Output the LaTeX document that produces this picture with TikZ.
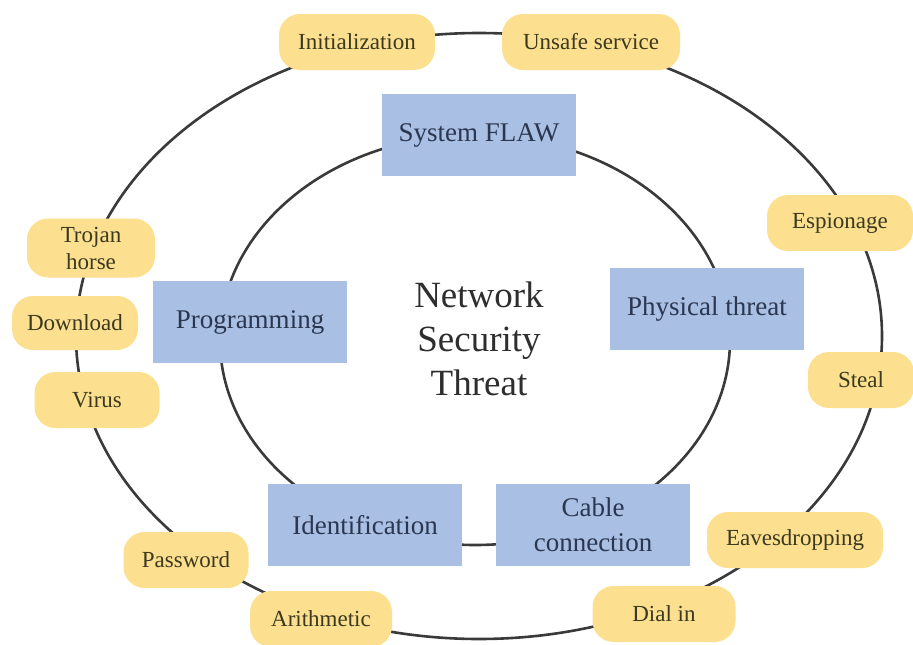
\documentclass[tikz,border=0pt]{standalone}
\usepackage{fontspec}
\setmainfont{Liberation Serif}
\definecolor{threatblue}{HTML}{A9BFE3}
\definecolor{attackgold}{HTML}{FCE08F}
\definecolor{navytext}{HTML}{2B3650}
\definecolor{olivetext}{HTML}{3B3920}
\definecolor{ringgray}{HTML}{3A3A3C}
\definecolor{titletext}{HTML}{2E2E2E}
\tikzset{
  ring/.style={draw=ringgray, line width=2.6pt},
  threat/.style={fill=threatblue, minimum width=194pt, minimum height=82pt,
    inner sep=0pt, align=center, text=navytext,
    font=\fontsize{27}{35}\selectfont},
  attack/.style={fill=attackgold, rounded corners=21pt, minimum height=56pt,
    inner sep=0pt, align=center, text=olivetext,
    font=\fontsize{23}{27}\selectfont}
}
\begin{document}
\begin{tikzpicture}[x=1pt,y=-1pt]
  \useasboundingbox[fill=white] (0,0) rectangle (913,645);
  % the two rings
  \coordinate (outerc) at (479,336);
  \coordinate (innerc) at (475,340);
  \draw[ring] (outerc) ellipse [x radius=403pt, y radius=303pt];
  \draw[ring] (innerc) ellipse [x radius=255pt, y radius=205pt];

  % centre title
  \node[align=center, text=titletext, font=\fontsize{37}{44}\selectfont]
    (title) at (479,339) {Network\\Security\\Threat};

  % inner ring: threat categories
  \node[threat] (flaw)  at (479,135) {System FLAW};
  \node[threat] (prog)  at (250,322) {Programming};
  \node[threat] (phys)  at (707,309) {Physical threat};
  \node[threat] (ident) at (365,525) {Identification};
  \node[threat] (cable) at (593,525) {Cable\\connection};

  % outer ring: attack methods
  \node[attack, minimum width=156pt] (init)   at (357,42)  {Initialization};
  \node[attack, minimum width=178pt] (unsafe) at (591,42)  {Unsafe service};
  \node[attack, minimum width=146pt] (spy)    at (840,223) {Espionage};
  \node[attack, minimum width=106pt] (steal)  at (861,380) {Steal};
  \node[attack, minimum width=176pt] (eaves)  at (795,540) {Eavesdropping};
  \node[attack, minimum width=143pt] (dial)   at (664,614) {Dial in};
  \node[attack, minimum width=142pt] (arith)  at (321,619) {Arithmetic};
  \node[attack, minimum width=125pt] (pass)   at (186,560) {Password};
  \node[attack, minimum width=125pt] (virus)  at (97,400)  {Virus};
  \node[attack, minimum width=126pt, minimum height=54pt] (down) at (75,323) {Download};
  \node[attack, minimum width=128pt, minimum height=59pt] (trojan) at (91,248) {Trojan\\horse};
\end{tikzpicture}
\end{document}
